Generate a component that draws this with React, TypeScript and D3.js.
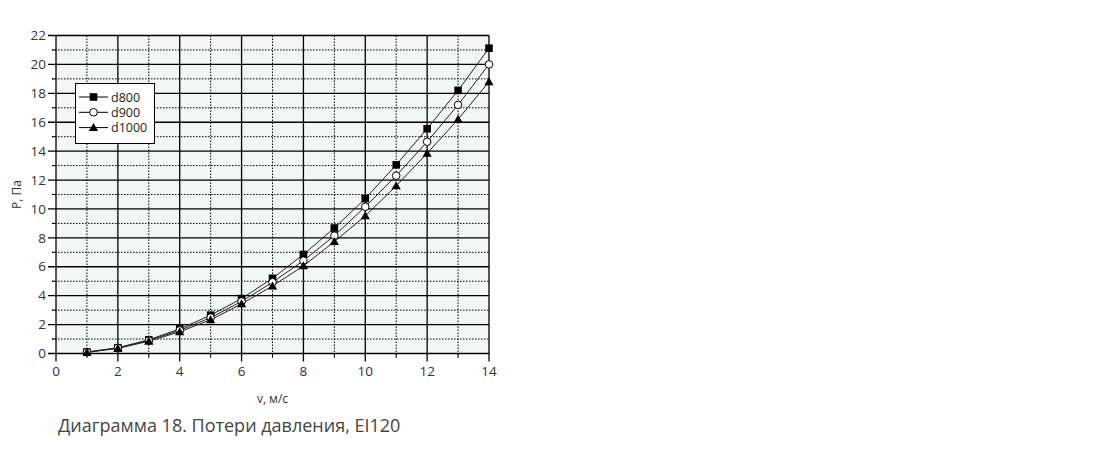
import React from "react";
import * as d3 from "d3";

const velocities = [1, 2, 3, 4, 5, 6, 7, 8, 9, 10, 11, 12, 13, 14];
const d800 = [0.1, 0.4, 0.95, 1.7, 2.65, 3.8, 5.2, 6.85, 8.68, 10.72, 13.05, 15.55, 18.2, 21.12];
const d900 = [0.09, 0.38, 0.9, 1.6, 2.48, 3.6, 4.93, 6.42, 8.15, 10.15, 12.3, 14.65, 17.2, 20.0];
const d1000 = [0.08, 0.35, 0.85, 1.5, 2.33, 3.43, 4.67, 6.06, 7.74, 9.52, 11.6, 13.85, 16.2, 18.8];
const seriesNames = ["d800", "d900", "d1000"];
const xTicks = [0, 2, 4, 6, 8, 10, 12, 14];
const yTicks = [0, 2, 4, 6, 8, 10, 12, 14, 16, 18, 20, 22];
const xLabel = "v, м/с";
const yLabel = "P, Па";
const caption = "Диаграмма 18. Потери давления, EI120";

const FONT = "'Open Sans', 'Noto Sans', sans-serif";

function Marker({ kind, x, y }: { kind: number; x: number; y: number }) {
  if (kind === 0) return <rect x={x - 3.8} y={y - 3.8} width={7.6} height={7.6} fill="#000" />;
  if (kind === 1) return <circle cx={x} cy={y} r={3.8} fill="#fff" stroke="#000" strokeWidth={1} />;
  const s = 4.6;
  return <path d={`M${x},${y - s}L${x + s},${y + s * 0.75}L${x - s},${y + s * 0.75}Z`} fill="#000" />;
}

export default function App() {
  const x = d3.scaleLinear().domain([0, 14]).range([56, 489]);
  const y = d3.scaleLinear().domain([0, 22]).range([353.5, 35.5]);
  const series = [d800, d900, d1000];
  const line = d3
    .line<number>()
    .x((_, i) => x(velocities[i]))
    .y((d) => y(d));
  const minorX = d3.range(1, 14, 2);
  const minorY = d3.range(1, 22, 2);
  const [x0, x1] = x.range();
  const [y0, y1] = y.range();

  return (
    <svg width={1112} height={461} style={{ position: "absolute", left: 0, top: 0 }}>
      <rect width={1112} height={461} fill="#fff" />
      <rect x={x0} y={y1 - 2} width={x1 - x0 + 1} height={y0 - y1 + 2} fill="#f3f6f5" />
      {minorY.map((v) => (
        <line key={"my" + v} x1={x0 - 4} x2={x1} y1={y(v)} y2={y(v)} stroke="#000" strokeWidth={1} strokeDasharray="1.5,1.5" />
      ))}
      {minorY.map((v) => (
        <line key={"myt" + v} x1={x0 - 4} x2={x0} y1={y(v)} y2={y(v)} stroke="#000" strokeWidth={1} />
      ))}
      {minorX.map((v) => (
        <line key={"mx" + v} x1={x(v)} x2={x(v)} y1={y1} y2={y0 + 4} stroke="#000" strokeWidth={1} strokeDasharray="1.5,1.5" />
      ))}
      {minorX.map((v) => (
        <line key={"mxt" + v} x1={x(v)} x2={x(v)} y1={y0} y2={y0 + 4} stroke="#000" strokeWidth={1} />
      ))}
      {yTicks.map((v) => (
        <line key={"gy" + v} x1={x0 - 8} x2={x1} y1={y(v)} y2={y(v)} stroke="#000" strokeWidth={1.3} />
      ))}
      {xTicks.map((v) => (
        <line key={"gx" + v} x1={x(v)} x2={x(v)} y1={y1} y2={y0 + 8} stroke="#000" strokeWidth={1.3} />
      ))}
      {yTicks.map((v) => (
        <text key={"ty" + v} x={x0 - 10} y={y(v)} dy="0.35em" textAnchor="end" fontFamily={FONT} fontSize={13.5} fill="#333">
          {v}
        </text>
      ))}
      {xTicks.map((v) => (
        <text key={"tx" + v} x={x(v)} y={y0 + 22} textAnchor="middle" fontFamily={FONT} fontSize={13.5} fill="#333">
          {v}
        </text>
      ))}
      <text x={(x0 + x1) / 2} y={y0 + 49} textAnchor="middle" fontFamily={FONT} fontSize={12} fill="#333">
        {xLabel}
      </text>
      <text transform={`translate(21,${(y0 + y1) / 2}) rotate(-90)`} textAnchor="middle" fontFamily={FONT} fontSize={12} fill="#333">
        {yLabel}
      </text>
      {series.map((s, k) => (
        <path key={"l" + k} d={line(s) || ""} fill="none" stroke="#222" strokeWidth={1} />
      ))}
      {series.map((s, k) => (
        <g key={"m" + k}>
          {s.map((v, i) => (
            <Marker key={i} kind={k} x={x(velocities[i])} y={y(v)} />
          ))}
        </g>
      ))}
      <g>
        <rect x={75.5} y={83.5} width={79} height={60} fill="#fff" stroke="#000" strokeWidth={1} />
        {seriesNames.map((n, k) => {
          const ly = 97 + k * 15.3;
          return (
            <g key={"lg" + n}>
              <line x1={79} x2={108} y1={ly} y2={ly} stroke="#000" strokeWidth={1} />
              <Marker kind={k} x={93.5} y={ly} />
              <text x={111} y={ly} dy="0.36em" fontFamily={FONT} fontSize={12.5} fill="#222">
                {n}
              </text>
            </g>
          );
        })}
      </g>
      <text x={58} y={432} fontFamily={FONT} fontSize={18} fill="#444">
        {caption}
      </text>
    </svg>
  );
}
